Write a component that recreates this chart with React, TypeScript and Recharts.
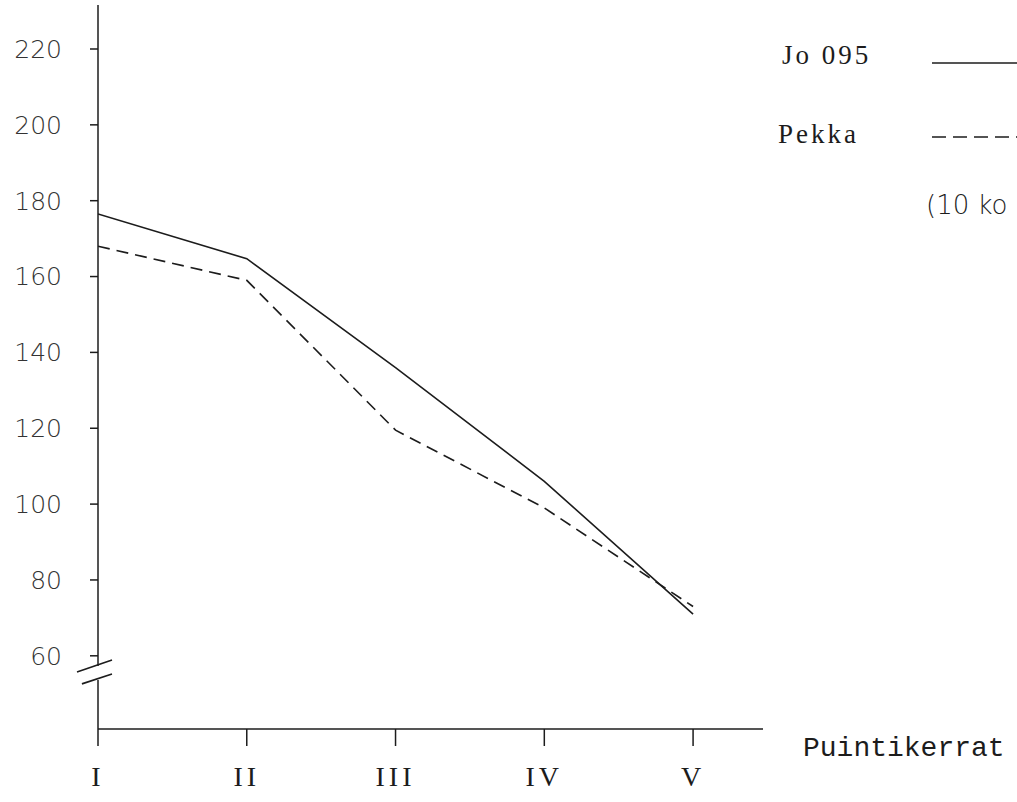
import { LineChart, Line, XAxis, YAxis, ReferenceLine } from 'recharts';

const CATEGORIES = ['I', 'II', 'III', 'IV', 'V'];
const JO_095 = [176.5, 164.7, 136, 106, 71];
const PEKKA = [168, 159, 119.5, 99, 73];
const Y_TICKS = [60, 80, 100, 120, 140, 160, 180, 200, 220];
const X_TICKS = [1, 2, 3, 4, 5];

const INK = '#1c1c1c';
const SERIF = '"Liberation Serif", "DejaVu Serif", serif';

const chartData = CATEGORIES.map((label, i) => ({
  x: i + 1,
  label,
  jo: JO_095[i],
  pekka: PEKKA[i],
}));

function XLabel({ viewBox }: any) {
  const { x, y, width } = viewBox;
  return (
    <text
      x={x + width + 40}
      y={y + 27}
      fontFamily='"Liberation Mono", "DejaVu Sans Mono", monospace'
      fontSize={28}
      fill={INK}
    >
      Puintikerrat
    </text>
  );
}

export default function App() {
  return (
    <div style={{ position: 'absolute', left: 0, top: 0, width: 1017, height: 802, background: '#fff' }}>
      <LineChart
        width={1017}
        height={802}
        data={chartData}
        margin={{ top: 5, right: 254, bottom: 0, left: 0 }}
      >
        <XAxis
          type="number"
          dataKey="x"
          domain={[1, 5.47]}
          ticks={X_TICKS}
          allowDataOverflow
          tickFormatter={(v: number) => CATEGORIES[v - 1]}
          height={73}
          tickSize={17}
          tickMargin={20}
          stroke={INK}
          strokeWidth={1.5}
          tick={{ fontFamily: SERIF, fontSize: 28, fill: INK, letterSpacing: 4 }}
          label={<XLabel />}
        />
        <YAxis
          type="number"
          domain={[40.7, 231.6]}
          ticks={Y_TICKS}
          allowDataOverflow
          width={98}
          axisLine={false}
          tickSize={8}
          tickMargin={28}
          stroke={INK}
          strokeWidth={1.5}
          tick={{ fontFamily: '"DejaVu Sans", sans-serif', fontWeight: 200, fontSize: 25, fill: '#333' }}
        />
        {/* y axis drawn in two pieces with a break */}
        <ReferenceLine
          segment={[{ x: 1, y: 40.7 }, { x: 1, y: 53.6 }]}
          stroke={INK}
          strokeWidth={1.5}
          ifOverflow="visible"
        />
        <ReferenceLine
          segment={[{ x: 1, y: 57.3 }, { x: 1, y: 231.6 }]}
          stroke={INK}
          strokeWidth={1.5}
          ifOverflow="visible"
        />
        <ReferenceLine
          segment={[{ x: 0.859, y: 55.7 }, { x: 1.094, y: 58.9 }]}
          stroke={INK}
          strokeWidth={1.6}
          ifOverflow="visible"
        />
        <ReferenceLine
          segment={[{ x: 0.892, y: 52.6 }, { x: 1.094, y: 55.2 }]}
          stroke={INK}
          strokeWidth={1.6}
          ifOverflow="visible"
        />
        <Line
          type="linear"
          dataKey="jo"
          stroke={INK}
          strokeWidth={1.6}
          dot={false}
          isAnimationActive={false}
        />
        <Line
          type="linear"
          dataKey="pekka"
          stroke={INK}
          strokeWidth={1.6}
          strokeDasharray="12 7"
          dot={false}
          isAnimationActive={false}
        />
      </LineChart>

      {/* legend, placed like the typed key on the original sheet */}
      <div style={{ position: 'absolute', left: 0, top: 0, width: 1017, height: 802, pointerEvents: 'none', overflow: 'hidden' }}>
        <span style={{ position: 'absolute', left: 782, top: 40, fontFamily: SERIF, fontSize: 27, letterSpacing: 3, color: INK }}>
          Jo 095
        </span>
        <svg style={{ position: 'absolute', left: 932, top: 58 }} width={90} height={10}>
          <line x1={0} y1={5} x2={90} y2={5} stroke={INK} strokeWidth={1.6} />
        </svg>
        <span style={{ position: 'absolute', left: 778, top: 119, fontFamily: SERIF, fontSize: 27, letterSpacing: 3, color: INK }}>
          Pekka
        </span>
        <svg style={{ position: 'absolute', left: 932, top: 132 }} width={85} height={10}>
          <line x1={0} y1={5} x2={85} y2={5} stroke={INK} strokeWidth={1.6} strokeDasharray="14 7" />
        </svg>
        <span style={{ position: 'absolute', left: 926, top: 190, fontFamily: '"DejaVu Sans", sans-serif', fontWeight: 200, fontSize: 26, color: INK, whiteSpace: 'nowrap' }}>
          (10 ko
        </span>
      </div>
    </div>
  );
}
